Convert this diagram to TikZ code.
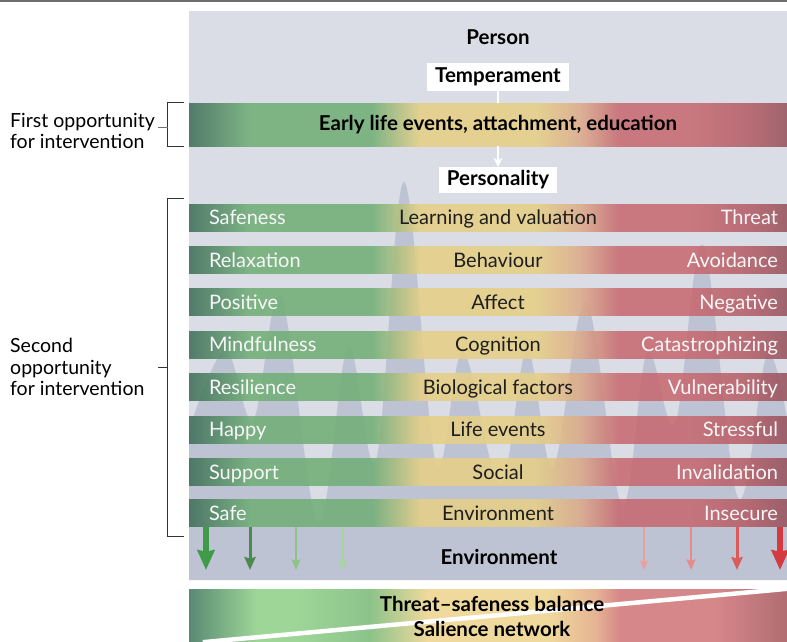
\documentclass[tikz,border=0pt]{standalone}
\usepackage{fontspec}
\setmainfont{Lato}
\usetikzlibrary{positioning, arrows.meta}
\usepackage{xcolor}

\definecolor{ruleGrey}{HTML}{6E6E6E}
\definecolor{panelGrey}{HTML}{DADDE6}
\definecolor{waveGrey}{HTML}{BEC3D4}
\definecolor{bracketGrey}{HTML}{333333}
\definecolor{labelWhite}{HTML}{F7F7F7}
\definecolor{labelDark}{HTML}{1E1E1E}

% row colours (rows are drawn slightly see-through)
\definecolor{rowDkGreen}{HTML}{3B6B56}
\definecolor{rowGreen}{HTML}{6FAE75}
\definecolor{rowYellow}{HTML}{E6CF84}
\definecolor{rowPeach}{HTML}{DDAA88}
\definecolor{rowPink}{HTML}{C7686F}
\definecolor{rowRed}{HTML}{B25A63}
\definecolor{rowDkRed}{HTML}{95505A}

% balance bar colours
\definecolor{balDkGreen}{HTML}{5A8A74}
\definecolor{balLtGreen}{HTML}{9ED698}
\definecolor{balGreen}{HTML}{8CC38A}
\definecolor{balYellow}{HTML}{F0D99C}
\definecolor{balPeach}{HTML}{E6B394}
\definecolor{balPink}{HTML}{D6878A}
\definecolor{balDkRed}{HTML}{B06D72}

% arrow colours
\definecolor{safeGreenA}{HTML}{3F9B47}
\definecolor{safeGreenB}{HTML}{4B8A4E}
\definecolor{safeGreenC}{HTML}{8EC387}
\definecolor{safeGreenD}{HTML}{A5D69F}
\definecolor{threatRedA}{HTML}{EBA0A0}
\definecolor{threatRedB}{HTML}{E48C8B}
\definecolor{threatRedC}{HTML}{DB5B5C}
\definecolor{threatRedD}{HTML}{D33B40}

\pgfdeclarehorizontalshading{rowShade}{100bp}{color(0bp)=(rowDkGreen); color(25bp)=(rowDkGreen); color(30.1bp)=(rowGreen); color(40.3bp)=(rowGreen); color(44.3bp)=(rowYellow); color(54bp)=(rowYellow); color(57.7bp)=(rowPeach); color(60.9bp)=(rowPink); color(67bp)=(rowPink); color(72bp)=(rowRed); color(75bp)=(rowDkRed); color(100bp)=(rowDkRed)}
\pgfdeclarehorizontalshading{balanceShade}{100bp}{color(0bp)=(balDkGreen); color(25bp)=(balDkGreen); color(30.7bp)=(balLtGreen); color(34bp)=(balLtGreen); color(40.1bp)=(balGreen); color(45bp)=(balYellow); color(55bp)=(balYellow); color(59bp)=(balPeach); color(61bp)=(balPink); color(69bp)=(balPink); color(75bp)=(balDkRed); color(100bp)=(balDkRed)}

\newcommand{\barfont}{\fontsize{20}{24}\selectfont}
\newcommand{\headfont}{\fontsize{20.5}{24}\selectfont\bfseries}
\newcommand{\sidefont}{\fontsize{19.5}{21.5}\selectfont}

\begin{document}
\begin{tikzpicture}[
    x=1pt, y=-1pt,
    node distance=15pt,
    rowbar/.style={minimum width=598pt, minimum height=27pt, inner sep=0pt, shading=rowShade, fill opacity=0.86},
    leftlbl/.style={text=labelWhite, font=\barfont, inner sep=0pt, text height=14.3pt, text depth=0pt},
    midlbl/.style={leftlbl, text=labelDark},
    heading/.style={font=\headfont, text=black, inner sep=0pt},
    whitetag/.style={heading, fill=white, minimum height=27pt, inner xsep=8pt},
    sidetext/.style={font=\sidefont, align=left, inner sep=2pt, anchor=west},
    bracket/.style={draw=bracketGrey, line width=1pt},
    envarrow/.style={draw=#1, -{Stealth[length=6pt 2.3, width=5pt 2, inset=1.5pt]}}
]
    \useasboundingbox (0,0) rectangle (787,642);
    \draw[ruleGrey, line width=2pt] (0,1) -- (787,1);

    % grey panel and the wave behind the rows
    \fill[panelGrey] (189,11) rectangle (787,580);
    \fill[waveGrey] (189,580) -- plot[smooth, tension=0.6] coordinates {(189,430) (225,350) (253,420) (281,297) (318,522) (348,347) (376,460) (404,182) (436,463) (463,352) (500,485) (527,350) (553,467) (586,302) (622,505) (647,353) (675,423) (703,245) (738,498) (767,355) (787,420)} -- (787,580) -- cycle;

    % person, temperament, early life, personality
    \node[heading] (person) at (498,37) {Person};
    \node[whitetag] (temp) at (498,77) {Temperament};
    \node[rowbar, minimum height=43pt] (early) at (488,124.5) {};
    \node[heading] at (early -| temp) {Early life events, attachment, education};
    \node[whitetag, minimum height=26pt] (pers) at (498,180) {Personality};
    \draw[white, line width=2pt] (temp.south) -- (temp.south |- early.north);
    \draw[white, line width=2pt, -{Stealth[length=9pt, width=9pt]}] (early.south -| pers) -- (pers.north);

    % the eight rows
    \node[rowbar] (r1) at (488,217.5) {};
    \node[rowbar, below=of r1] (r2) {};
    \node[rowbar, below=of r2] (r3) {};
    \node[rowbar, below=of r3] (r4) {};
    \node[rowbar, below=of r4] (r5) {};
    \node[rowbar, below=of r5] (r6) {};
    \node[rowbar, below=of r6] (r7) {};
    \node[rowbar, below=14pt of r7] (r8) {};

    \node[leftlbl, right=20pt of r1.west] {Safeness};
    \node[midlbl] at (r1 -| pers) {Learning and valuation};
    \node[leftlbl, left=9pt of r1.east] {Threat};
    \node[leftlbl, right=20pt of r2.west] {Relaxation};
    \node[midlbl] at (r2 -| pers) {Behaviour};
    \node[leftlbl, left=9pt of r2.east] {Avoidance};
    \node[leftlbl, right=20pt of r3.west] {Positive};
    \node[midlbl] at (r3 -| pers) {Affect};
    \node[leftlbl, left=9pt of r3.east] {Negative};
    \node[leftlbl, right=20pt of r4.west] {Mindfulness};
    \node[midlbl] at (r4 -| pers) {Cognition};
    \node[leftlbl, left=9pt of r4.east] {Catastrophizing};
    \node[leftlbl, right=20pt of r5.west] {Resilience};
    \node[midlbl] at (r5 -| pers) {Biological factors};
    \node[leftlbl, left=9pt of r5.east] {Vulnerability};
    \node[leftlbl, right=20pt of r6.west] {Happy};
    \node[midlbl] at (r6 -| pers) {Life events};
    \node[leftlbl, left=9pt of r6.east] {Stressful};
    \node[leftlbl, right=20pt of r7.west] {Support};
    \node[midlbl] at (r7 -| pers) {Social};
    \node[leftlbl, left=9pt of r7.east] {Invalidation};
    \node[leftlbl, right=20pt of r8.west] {Safe};
    \node[midlbl] at (r8 -| pers) {Environment};
    \node[leftlbl, left=9pt of r8.east] {Insecure};

    % arrows into the environment
    \node[heading] (env) at (499,557) {Environment};
    \coordinate (g1) at (206,570); \coordinate (g2) at (250,570);
    \coordinate (g3) at (296,570); \coordinate (g4) at (343,570);
    \coordinate (t1) at (644,570); \coordinate (t2) at (691,570);
    \coordinate (t3) at (737,570); \coordinate (t4) at (780,570);
    \draw[envarrow=safeGreenA, line width=6pt] (r8.south -| g1) -- (g1);
    \draw[envarrow=safeGreenB, line width=3pt] (r8.south -| g2) -- (g2);
    \draw[envarrow=safeGreenC, line width=2pt] (r8.south -| g3) -- (g3);
    \draw[envarrow=safeGreenD, line width=1.5pt] (r8.south -| g4) -- (g4);
    \draw[envarrow=threatRedA, line width=1.5pt] (r8.south -| t1) -- (t1);
    \draw[envarrow=threatRedB, line width=2pt] (r8.south -| t2) -- (t2);
    \draw[envarrow=threatRedC, line width=3pt] (r8.south -| t3) -- (t3);
    \draw[envarrow=threatRedD, line width=6pt] (r8.south -| t4) -- (t4);

    % balance bar
    \node[minimum width=598pt, minimum height=53pt, inner sep=0pt, shading=balanceShade] (balance) at (488,615.5) {};
    \begin{scope}
        \clip (balance.north west) rectangle (balance.south east);
        \draw[white, line width=4.5pt] ([xshift=14pt]balance.south west) -- (balance.north east);
    \end{scope}
    \node[heading] at (492,604) {Threat--safeness balance};
    \node[heading] at (492,629) {Salience network};

    % opportunities for intervention
    \node[sidetext] (first) at (8,131) {First opportunity\\for intervention};
    \draw[bracket] ([xshift=-5pt]early.north west) -| ([xshift=-21pt]early.south west) -- ([xshift=-5pt]early.south west);
    \draw[bracket, draw=ruleGrey] ([xshift=-31pt, yshift=-2.5pt]early.west) -- ++(10,0);
    \node[sidetext] (second) at (8,367) {Second\\opportunity\\for intervention};
    \draw[bracket] ([xshift=-5pt,yshift=5pt]r1.north west) -| ([xshift=-21pt,yshift=-9pt]r8.south west) -- ([xshift=-5pt,yshift=-9pt]r8.south west);
    \draw[bracket] ([xshift=-31pt, yshift=-9pt]r4.south west) -- ++(10,0);
\end{tikzpicture}
\end{document}
